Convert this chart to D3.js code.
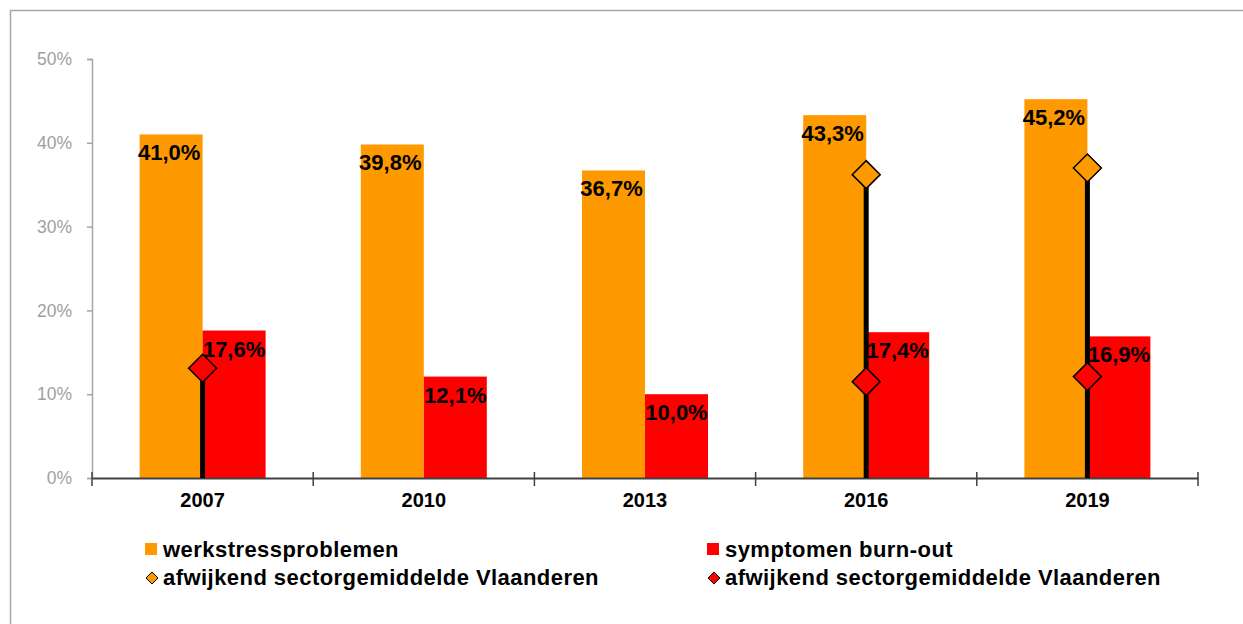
<!DOCTYPE html>
<html>
<head>
<meta charset="utf-8">
<script src="https://cdn.jsdelivr.net/npm/d3@7"></script>
<style>
  body { margin: 0; background: #fff; }
  svg { display: block; }
</style>
</head>
<body>
<div id="chart"></div>
<script>
// data
var years = ["2007", "2010", "2013", "2016", "2019"];
var werkstress = [41.0, 39.8, 36.7, 43.3, 45.2];
var burnout = [17.6, 12.1, 10.0, 17.4, 16.9];
// sector averages (only shown where they differ)
var sectorWerkstress = [null, null, null, 36.2, 37.0];
var sectorBurnout = [13.1, null, null, 11.5, 12.1];
var yTicks = [0, 10, 20, 30, 40, 50];

var W = 1243, H = 624;
var orange = "#ff9900", red = "#ff0000";
var labelFont = "'Liberation Sans', Arial, sans-serif";

var svg = d3.select("#chart")
  .append("svg")
    .attr("width", W)
    .attr("height", H);

// outer frame (right and bottom run off the picture)
svg.append("path")
  .attr("d", "M10.5," + H + "V10.5H" + W)
  .attr("fill", "none")
  .attr("stroke", "#a6a6a6")
  .attr("stroke-width", 1.5);

var x0 = d3.scaleBand()
  .domain(years)
  .range([92, 1198])
  .padding(0);

var groupW = 126;
var x1 = d3.scaleBand()
  .domain(["w", "b"])
  .range([0, groupW]);

var y = d3.scaleLinear()
  .domain([0, 50])
  .range([478, 59]);

// y axis
var yAxis = svg.append("g")
  .attr("transform", "translate(92,0)")
  .call(d3.axisLeft(y).tickValues(yTicks).tickSize(5).tickPadding(15)
    .tickFormat(function(d){ return d + "%"; }));
yAxis.select(".domain").attr("stroke", "#a6a6a6").attr("stroke-width", 1.5);
yAxis.selectAll(".tick line").attr("stroke", "#a6a6a6").attr("stroke-width", 1.5);
yAxis.selectAll(".tick text")
  .attr("fill", "#a0a0a0")
  .style("font-family", labelFont)
  .style("font-size", "17.5px");

var groupLeft = function(d){ return x0(d) + (x0.bandwidth() - groupW) / 2; };

// bars
var groups = svg.selectAll(".grp")
  .data(years)
  .enter()
  .append("g")
    .attr("class", "grp")
    .attr("transform", function(d){ return "translate(" + groupLeft(d) + ",0)"; });

groups.append("rect")
  .attr("x", x1("w"))
  .attr("width", x1.bandwidth())
  .attr("y", function(d, i){ return y(werkstress[i]); })
  .attr("height", function(d, i){ return y(0) - y(werkstress[i]); })
  .attr("fill", orange);

groups.append("rect")
  .attr("x", x1("b"))
  .attr("width", x1.bandwidth())
  .attr("y", function(d, i){ return y(burnout[i]); })
  .attr("height", function(d, i){ return y(0) - y(burnout[i]); })
  .attr("fill", red);

// x axis
var xAxis = svg.append("g")
  .attr("transform", "translate(0,478)")
  .call(d3.axisBottom(x0).tickSize(0).tickPadding(15));
xAxis.select(".domain").attr("stroke", "#404040").attr("stroke-width", 2);
xAxis.selectAll(".tick text")
  .attr("fill", "#000")
  .style("font-family", "'Liberation Sans Narrow', 'Arial Narrow', " + labelFont)
  .style("font-weight", "bold")
  .style("font-size", "20px");

// category separators
var seps = x0.domain().map(function(d){ return x0(d); }).concat([x0.range()[1]]);
svg.selectAll(".sep")
  .data(seps)
  .enter()
  .append("line")
    .attr("x1", function(d){ return d; })
    .attr("x2", function(d){ return d; })
    .attr("y1", 472)
    .attr("y2", 486)
    .attr("stroke", "#404040")
    .attr("stroke-width", 1.5);

// drop lines from the sector average down to the axis
var dropTop = years.map(function(d, i){
  var vals = [sectorWerkstress[i], sectorBurnout[i]].filter(function(v){ return v != null; });
  return vals.length ? d3.max(vals) : null;
});
svg.selectAll(".drop")
  .data(years)
  .enter()
  .filter(function(d, i){ return dropTop[i] != null; })
  .append("line")
    .attr("x1", function(d){ return groupLeft(d) + x1("b"); })
    .attr("x2", function(d){ return groupLeft(d) + x1("b"); })
    .attr("y1", function(d){ return y(dropTop[years.indexOf(d)]); })
    .attr("y2", y(0))
    .attr("stroke", "#000")
    .attr("stroke-width", 5);

// value labels
var labelStyle = function(sel){
  sel.attr("text-anchor", "middle")
    .style("font-family", labelFont)
    .style("font-weight", "bold")
    .style("font-size", "22px")
    .attr("fill", "#000");
};
groups.append("text")
  .attr("x", x1("w") + x1.bandwidth() / 2 - 2)
  .attr("y", function(d, i){ return y(werkstress[i]) + 26; })
  .text(function(d, i){ return werkstress[i].toFixed(1).replace(".", ",") + "%"; })
  .call(labelStyle);
groups.append("text")
  .attr("x", x1("b") + x1.bandwidth() / 2)
  .attr("y", function(d, i){ return y(burnout[i]) + 26; })
  .text(function(d, i){ return burnout[i].toFixed(1).replace(".", ",") + "%"; })
  .call(labelStyle);

// diamonds
var diamond = function(r){ return "M0," + (-r) + "L" + r + ",0L0," + r + "L" + (-r) + ",0Z"; };
var addDiamonds = function(vals, color){
  svg.selectAll(null)
    .data(years)
    .enter()
    .filter(function(d, i){ return vals[i] != null; })
    .append("path")
      .attr("d", diamond(14))
      .attr("transform", function(d){
        return "translate(" + (groupLeft(d) + x1("b")) + "," + y(vals[years.indexOf(d)]) + ")";
      })
      .attr("fill", color)
      .attr("stroke", "#000")
      .attr("stroke-width", 1.5);
};
addDiamonds(sectorWerkstress, orange);
addDiamonds(sectorBurnout, red);

// legend
var legendItems = [
  {label: "werkstressproblemen", color: orange, shape: "square", x: 145, y: 557},
  {label: "symptomen burn-out", color: red, shape: "square", x: 707, y: 557},
  {label: "afwijkend sectorgemiddelde Vlaanderen", color: orange, shape: "diamond", x: 145, y: 585},
  {label: "afwijkend sectorgemiddelde Vlaanderen", color: red, shape: "diamond", x: 707, y: 585}
];
var legend = svg.selectAll(".legend")
  .data(legendItems)
  .enter()
  .append("g")
    .attr("class", "legend")
    .attr("transform", function(d){ return "translate(" + d.x + "," + d.y + ")"; });

legend.filter(function(d){ return d.shape == "square"; })
  .append("rect")
    .attr("x", 0)
    .attr("y", -14)
    .attr("width", 12)
    .attr("height", 12)
    .attr("fill", function(d){ return d.color; });

legend.filter(function(d){ return d.shape == "diamond"; })
  .append("path")
    .attr("d", diamond(6))
    .attr("transform", "translate(7,-7)")
    .attr("fill", function(d){ return d.color; })
    .attr("stroke", "#000")
    .attr("stroke-width", 1);

legend.append("text")
  .attr("x", 18)
  .attr("y", 0)
  .text(function(d){ return d.label; })
  .style("font-family", labelFont)
  .style("font-weight", "bold")
  .style("font-size", "22px")
  .style("letter-spacing", "0.45px")
  .attr("fill", "#000");
</script>
</body>
</html>
